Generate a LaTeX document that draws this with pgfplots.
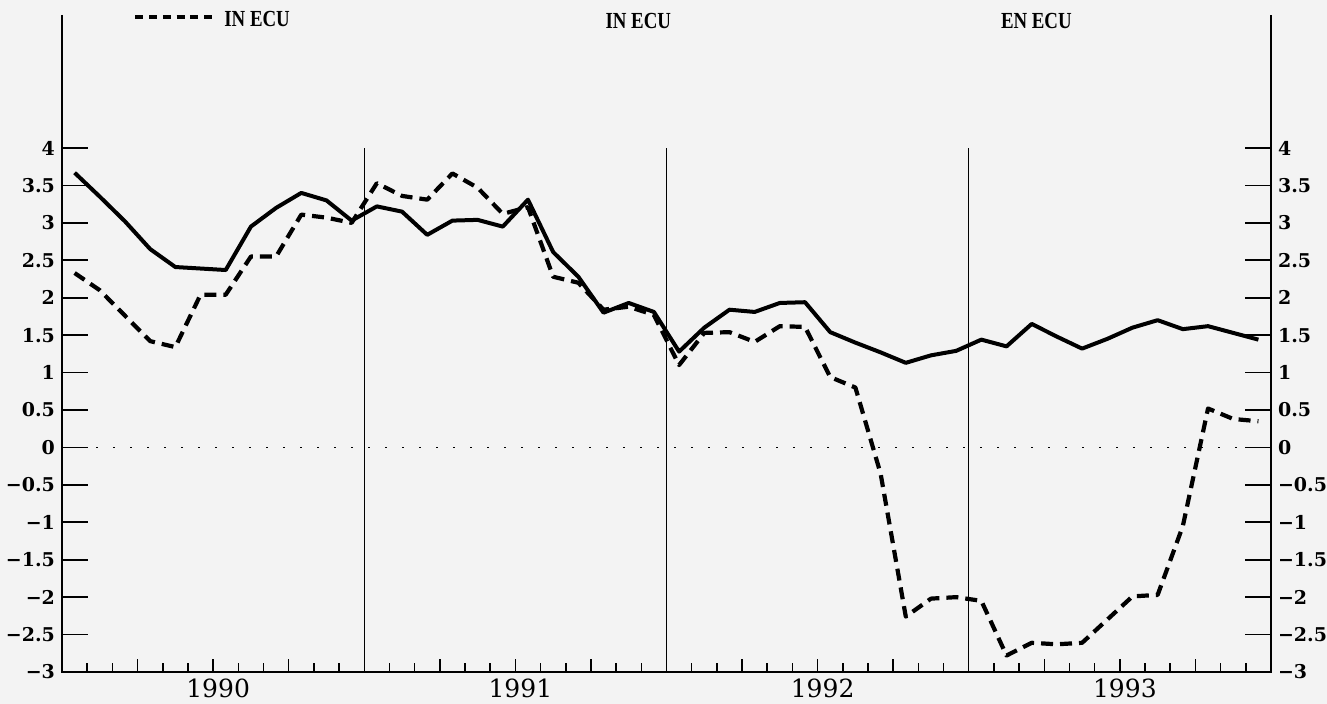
\documentclass[border=0pt]{standalone}
\usepackage{pgfplots}
\pgfplotsset{compat=1.18}
\usepackage{pgfplotstable}
\usepackage{fontspec}
\setmainfont{DejaVu Serif}
\newfontfamily\legfont[FakeStretch=0.82]{Liberation Serif}
\definecolor{paper}{HTML}{F3F3F3}

% monthly values, plotted at mid-month (0 = start of 1990)
\pgfplotstableread{
m    solid dashed
0.5  3.67  2.33
1.5  3.35  2.10
2.5  3.02  1.76
3.5  2.65  1.42
4.5  2.41  1.34
5.5  2.39  2.04
6.5  2.37  2.04
7.5  2.95  2.55
8.5  3.20  2.55
9.5  3.40  3.11
10.5 3.30  3.07
11.5 3.03  3.00
12.5 3.22  3.53
13.5 3.15  3.36
14.5 2.84  3.31
15.5 3.03  3.66
16.5 3.04  3.47
17.5 2.95  3.12
18.5 3.31  3.21
19.5 2.61  2.28
20.5 2.28  2.20
21.5 1.80  1.84
22.5 1.93  1.88
23.5 1.81  1.77
24.5 1.28  1.10
25.5 1.60  1.53
26.5 1.84  1.54
27.5 1.81  1.41
28.5 1.93  1.62
29.5 1.94  1.61
30.5 1.54  0.94
31.5 1.40  0.80
32.5 1.27 -0.35
33.5 1.13 -2.26
34.5 1.23 -2.02
35.5 1.29 -2.00
36.5 1.44 -2.05
37.5 1.35 -2.78
38.5 1.65 -2.61
39.5 1.48 -2.63
40.5 1.32 -2.61
41.5 1.45 -2.30
42.5 1.60 -1.99
43.5 1.70 -1.97
44.5 1.58 -1.05
45.5 1.62  0.52
46.5 1.53  0.38
47.5 1.44  0.35
}\ecu

\pgfplotsset{
  ecubase/.style={
    scale only axis, width=604.5pt, height=328.5pt,
    at={(0pt,0pt)}, anchor=south west,
    xmin=0, xmax=48, ymin=-3, ymax=5.777,
    axis line style={draw=none}, clip=false,
    ytick={-3,-2.5,-2,-1.5,-1,-0.5,0,0.5,1,1.5,2,2.5,3,3.5,4},
    yticklabels={−3,−2.5,−2,−1.5,−1,−0.5,0,0.5,1,1.5,2,2.5,3,3.5,4},
    y tick label style={font=\bfseries\fontsize{9.5}{12}\selectfont},
    tick align=inside,
  }
}

\begin{document}
\begin{tikzpicture}
\path[use as bounding box] (-31pt,-16pt) rectangle (632.5pt,336pt);
\fill[paper] (-31pt,-16pt) rectangle (632.5pt,336pt);

\begin{axis}[ecubase,
    ytick pos=both, yticklabel pos=left, xtick=\empty,
    major tick length=13pt,
    ytick style={black, line width=0.8pt},
    legend style={at={(axis cs:2.81,5.70)}, anchor=west, draw=none, fill=none,
      font=\legfont\bfseries\fontsize{11.5}{13}\selectfont,
      inner sep=0pt, column sep=3pt},
    legend image code/.code={\draw[#1, dash pattern=on 4pt off 2.9pt] (0pt,2pt) -- (38.5pt,2pt);},
  ]
  % frame: left, bottom, right (no top)
  \draw[line width=1pt] (rel axis cs:0,1) -- (rel axis cs:0,0) -- (rel axis cs:1,0) -- (rel axis cs:1,1);
  % year separators
  \draw[line width=0.6pt] (axis cs:12,-3) -- (axis cs:12,4);
  \draw[line width=0.6pt] (axis cs:24,-3) -- (axis cs:24,4);
  \draw[line width=0.6pt] (axis cs:36,-3) -- (axis cs:36,4);
  % zero line
  \draw[line width=0.9pt, dash pattern=on 0.9pt off 7.6pt] (axis cs:0,0) -- (axis cs:48,0);

  \addplot[black, line width=2pt, line join=round, forget plot] table[x=m, y=solid] {\ecu};
  \addplot[black, line width=2.1pt, line join=round, dash pattern=on 6pt off 3.5pt] table[x=m, y=dashed] {\ecu};
  \addlegendentry{IN ECU}

  \node[anchor=west, font=\legfont\bfseries\fontsize{11.5}{13}\selectfont] at (axis cs:21.3,5.70) {IN ECU};
  \node[anchor=west, font=\legfont\bfseries\fontsize{11.5}{13}\selectfont] at (axis cs:37.0,5.70) {EN ECU};
\end{axis}

\begin{axis}[ecubase,
    ytick pos=right, yticklabel pos=right,
    ytick style={draw=none},
    xtick pos=bottom,
    xtick={3,6,9,15,18,21,27,30,33,39,42,45},
    xticklabels={,1990,,,1991,,,1992,,,1993,},
    minor xtick={1,2,4,5,7,8,10,11,13,14,16,17,19,20,22,23,25,26,28,29,31,32,34,35,37,38,40,41,43,44,46,47},
    major tick length=6.5pt, minor tick length=4.5pt,
    xtick style={black, line width=0.8pt},
    minor tick style={black, line width=0.8pt},
    x tick label style={font=\fontsize{12.5}{14}\selectfont, xshift=2.5pt},
  ]
\end{axis}
\end{tikzpicture}
\end{document}
